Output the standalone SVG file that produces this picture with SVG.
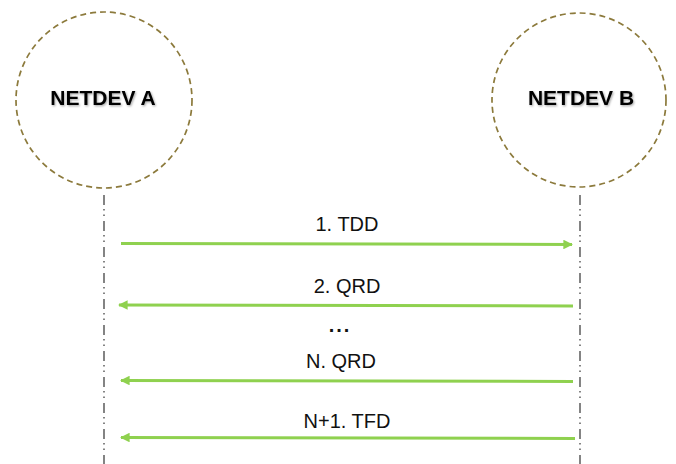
<svg xmlns="http://www.w3.org/2000/svg" width="676" height="464" viewBox="0 0 676 464">
  <style>
    .dev { fill: none; stroke: #8c7a3c; stroke-width: 1.7; stroke-dasharray: 6 4; }
    .devlabel { font-family: "Liberation Sans", Arial, sans-serif; font-weight: bold; font-size: 21px; fill: #000; text-anchor: middle; filter: url(#shadow); }
    .life { stroke: #333; stroke-width: 1.2; stroke-dasharray: 10 4 1.5 4 1.5 5; fill: none; }
    .msg { stroke: #8fd14f; stroke-width: 3; fill: none; }
    .lbl { font-family: "Liberation Sans", Arial, sans-serif; font-size: 20px; fill: #111; text-anchor: middle; }
  </style>
  <defs>
    <filter id="shadow" x="-10%" y="-30%" width="130%" height="180%">
      <feDropShadow dx="1" dy="1.2" stdDeviation="0.8" flood-color="#000" flood-opacity="0.35"/>
    </filter>
    <marker id="head" viewBox="0 0 10 10" refX="9" refY="5" markerWidth="3.2" markerHeight="3.2" orient="auto-start-reverse" markerUnits="strokeWidth">
      <path d="M0,0 L10,5 L0,10 Z" fill="#8fd14f"/>
    </marker>
  </defs>
  <rect width="676" height="464" fill="#fff"/>

  <g id="netdev-a">
    <circle class="dev" cx="104" cy="100" r="88"/>
    <text class="devlabel" x="103" y="105">NETDEV A</text>
  </g>
  <g id="netdev-b">
    <circle class="dev" cx="579" cy="100" r="87"/>
    <text class="devlabel" x="581" y="105">NETDEV B</text>
  </g>

  <g id="lifelines">
    <line class="life" x1="104" y1="195" x2="104" y2="464"/>
    <line class="life" x1="580" y1="195" x2="580" y2="464"/>
  </g>

  <g id="connectors">
    <line class="msg" x1="121" y1="243.5" x2="572" y2="244.5" marker-end="url(#head)"/>
    <line class="msg" x1="573" y1="306" x2="119" y2="305" marker-end="url(#head)"/>
    <line class="msg" x1="573" y1="381.5" x2="121" y2="380.5" marker-end="url(#head)"/>
    <line class="msg" x1="575" y1="438.5" x2="121" y2="437.5" marker-end="url(#head)"/>
  </g>

  <g id="labels">
    <text class="lbl" x="340" y="332" font-weight="bold" font-size="32px" letter-spacing="2">...</text>
    <text class="lbl" x="347" y="231">1. TDD</text>
    <text class="lbl" x="347" y="293">2. QRD</text>
    <text class="lbl" x="341" y="368">N. QRD</text>
    <text class="lbl" x="347" y="428">N+1. TFD</text>
  </g>
</svg>
